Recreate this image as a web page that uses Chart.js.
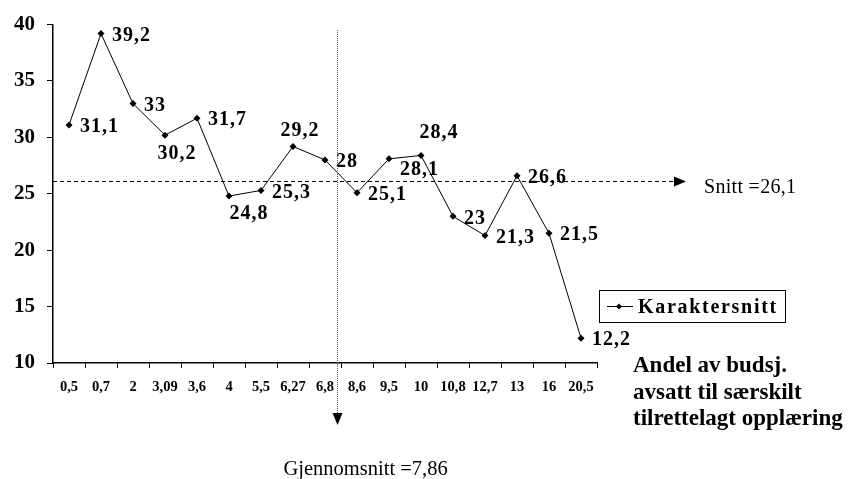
<!DOCTYPE html>
<html><head><meta charset="utf-8">
<script src="https://cdn.jsdelivr.net/npm/chart.js@4/dist/chart.umd.min.js"></script>
<style>html,body{margin:0;padding:0;background:#fff}#wrap{width:853px;height:479px}</style>
</head><body><div id="wrap"><canvas id="c" width="853" height="479"></canvas></div>
<script>
const categories = ['0,5','0,7','2','3,09','3,6','4','5,5','6,27','6,8','8,6','9,5','10','10,8','12,7','13','16','20,5'];
const karaktersnitt = [31.1,39.2,33,30.2,31.7,24.8,25.3,29.2,28,25.1,28.1,28.4,23,21.3,26.6,21.5,12.2];
const yTicks = [10,15,20,25,30,35,40];
const seriesName = 'Karaktersnitt';
const snittValue = 26.1;
const snittText = 'Snitt =26,1';
const gjennomsnittText = 'Gjennomsnitt =7,86';
const gjennomsnittCategoryPos = 8.38; // position of 7,86 along the category axis (between 6,8 and 8,6)
const axisTitleLines = ['Andel av budsj.','avsatt til særskilt','tilrettelagt opplæring'];
const labelAnchor = ['right','right','right','below','right','below2','right','above','right','right','rightLow','above2','right','right','right','right','right'];

const SERIF = '"Liberation Serif", "Times New Roman", serif';
const fmt = v => String(v).replace('.', ',');
function spacing(ctx, s) { try { ctx.letterSpacing = s; } catch (e) {} }

const overlay = {
  id: 'overlay',
  afterDatasetsDraw(chart) {
    const {ctx, scales: {x, y}, chartArea} = chart;
    const meta = chart.getDatasetMeta(0);
    ctx.save();
    ctx.fillStyle = '#000';
    // data labels
    ctx.font = 'bold 20px ' + SERIF;
    spacing(ctx, '1px');
    ctx.textBaseline = 'middle';
    meta.data.forEach((pt, i) => {
      const t = fmt(karaktersnitt[i]);
      const a = labelAnchor[i];
      let dx = 11, dy = 2, al = 'left';
      if (a === 'rightLow') { dx = 11; dy = 11; }
      if (a === 'below') { al = 'center'; dx = 12; dy = 19; }
      if (a === 'below2') { al = 'center'; dx = 20; dy = 18; }
      if (a === 'above') { al = 'center'; dx = 7; dy = -16; }
      if (a === 'above2') { al = 'center'; dx = 18; dy = -23; }
      ctx.textAlign = al;
      ctx.fillText(t, pt.x + dx, pt.y + dy);
    });
    spacing(ctx, '0px');
    // Snitt line
    const ys = Math.round(y.getPixelForValue(snittValue)) + 0.5;
    ctx.strokeStyle = '#000';
    ctx.lineWidth = 1;
    ctx.setLineDash([4, 3]);
    ctx.beginPath();
    ctx.moveTo(chartArea.left, ys);
    ctx.lineTo(chartArea.right + 78, ys);
    ctx.stroke();
    ctx.setLineDash([]);
    ctx.beginPath();
    ctx.moveTo(chartArea.right + 77, ys - 5);
    ctx.lineTo(chartArea.right + 89, ys);
    ctx.lineTo(chartArea.right + 77, ys + 5);
    ctx.closePath();
    ctx.fill();
    ctx.font = '20px ' + SERIF;
    ctx.textAlign = 'left';
    ctx.textBaseline = 'alphabetic';
    spacing(ctx, '0.3px');
    ctx.fillText(snittText, chartArea.right + 107, ys + 11);
    spacing(ctx, '0px');
    // Gjennomsnitt vertical line
    const p8 = x.getPixelForValue(8), p9 = x.getPixelForValue(9);
    const xv = Math.round(p8 + (gjennomsnittCategoryPos - 8) * (p9 - p8)) + 0.5;
    ctx.strokeStyle = '#555';
    ctx.setLineDash([1, 1]);
    ctx.beginPath();
    ctx.moveTo(xv, 30);
    ctx.lineTo(xv, 414);
    ctx.stroke();
    ctx.setLineDash([]);
    ctx.fillStyle = '#000';
    ctx.beginPath();
    ctx.moveTo(xv - 5, 413);
    ctx.lineTo(xv + 5, 413);
    ctx.lineTo(xv, 425);
    ctx.closePath();
    ctx.fill();
    ctx.font = '20.5px ' + SERIF;
    ctx.textAlign = 'left';
    ctx.fillText(gjennomsnittText, xv - 54, 475);
    // Axis title (bottom right)
    ctx.font = 'bold 23px ' + SERIF;
    ctx.textAlign = 'left';
    axisTitleLines.forEach((l, i) => ctx.fillText(l, 633, 372 + i * 26.5));
    // Legend
    const lx = 599.5, ly = 290.5, lw = 186, lh = 32;
    ctx.lineWidth = 1;
    ctx.strokeStyle = '#000';
    ctx.strokeRect(lx, ly, lw, lh);
    const my = ly + lh / 2;
    ctx.beginPath();
    ctx.moveTo(607, my); ctx.lineTo(633, my); ctx.stroke();
    ctx.beginPath();
    ctx.moveTo(619, my - 3); ctx.lineTo(622, my); ctx.lineTo(619, my + 3); ctx.lineTo(616, my); ctx.closePath(); ctx.fill();
    ctx.font = 'bold 20px ' + SERIF;
    ctx.textBaseline = 'middle';
    spacing(ctx, '1.7px');
    ctx.fillText(seriesName, 638, my + 1);
    spacing(ctx, '0px');
    ctx.restore();
  }
};

new Chart(document.getElementById('c'), {
  type: 'line',
  data: {
    labels: categories,
    datasets: [{
      label: seriesName,
      data: karaktersnitt,
      borderColor: '#000',
      backgroundColor: '#000',
      borderWidth: 1,
      pointStyle: 'rectRot',
      pointRadius: 3.5,
      pointBorderWidth: 0,
      tension: 0
    }]
  },
  options: {
    responsive: false,
    animation: false,
    devicePixelRatio: 1,
    layout: { padding: { left: 0, right: 256, top: 23, bottom: 0 } },
    plugins: { legend: { display: false }, tooltip: { enabled: false } },
    scales: {
      x: {
        offset: true,
        grid: { offset: true, drawOnChartArea: false, drawTicks: true, tickLength: 5, color: '#000' },
        border: { color: '#000', width: 1.5 },
        ticks: { color: '#000', font: { family: SERIF, weight: 'bold', size: 14.5 }, maxRotation: 0, autoSkip: false, padding: 11 },
        afterFit: s => { s.height = 116; }
      },
      y: {
        min: 10, max: 40,
        afterBuildTicks: s => { s.ticks = yTicks.map(v => ({ value: v })); },
        grid: { drawOnChartArea: false, drawTicks: true, tickLength: 6, color: '#000' },
        border: { color: '#000', width: 1.5 },
        ticks: { color: '#000', font: { family: SERIF, weight: 'bold', size: 21 }, padding: 12, callback: v => String(v) },
        afterFit: s => { s.width = 53; }
      }
    }
  },
  plugins: [overlay]
});
</script></body></html>
